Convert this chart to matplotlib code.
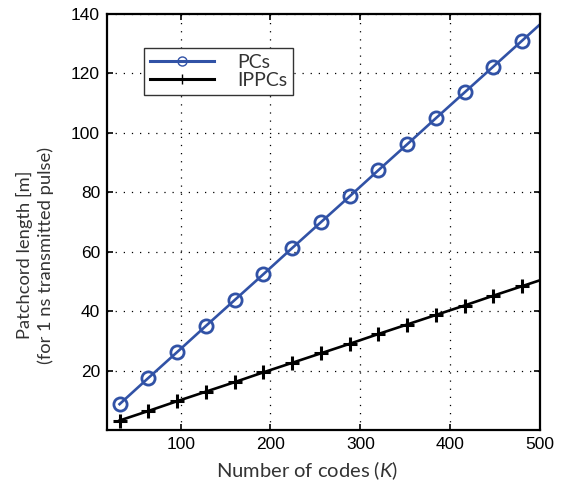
import numpy as np
import matplotlib
matplotlib.use('Agg')
from matplotlib import pyplot as plt
from matplotlib.lines import Line2D

# data
num_codes = [32, 64, 96, 128, 160, 192, 224, 256, 288, 320, 352, 384, 416, 448, 480, 500]
pcs_length = [8.7, 17.5, 26.2, 35.0, 43.7, 52.4, 61.2, 69.9, 78.6, 87.4, 96.1,
              104.9, 113.6, 122.3, 131.0, 136.5]
ippcs_length = [3.2, 6.4, 9.7, 12.9, 16.1, 19.4, 22.6, 25.8, 29.0, 32.3, 35.5,
                38.7, 41.9, 45.2, 48.4, 50.4]
x_ticks = [100, 200, 300, 400, 500]
y_ticks = [20, 40, 60, 80, 100, 120, 140]

BLUE = '#3152a6'
LABEL_FONT = 'Lato'
TICK_FONT = 'Liberation Sans'

# italic K in the same family as the label
plt.rcParams['mathtext.fontset'] = 'custom'
plt.rcParams['mathtext.it'] = 'Lato:italic'
plt.rcParams['mathtext.rm'] = 'Lato'

fig = plt.figure(figsize=(5.77, 4.87), dpi=100)
ax = fig.add_axes([0.1854, 0.117, 0.7505, 0.8543])

# markers only on the 32-step points, line runs on to the right edge
n_mark = len(num_codes) - 1
ax.plot(num_codes, pcs_length, '-', color=BLUE, lw=1.9,
        marker='o', ms=9.5, mfc='none', mec=BLUE, mew=2.0,
        markevery=list(range(n_mark)))
ax.plot(num_codes, ippcs_length, '-', color='black', lw=1.9,
        marker='+', ms=10, mew=2.2,
        markevery=list(range(n_mark)))

ax.set_xlim(18, 500)
ax.set_ylim(0, 140)
ax.set_xticks(x_ticks)
ax.set_yticks(y_ticks)
ax.grid(True, color='black', linestyle=(0, (1, 5.5)), linewidth=0.9)
ax.tick_params(direction='in', length=4, width=1.2, top=True, right=True,
               labelsize=12.5, pad=5)
for lab in ax.get_xticklabels() + ax.get_yticklabels():
    lab.set_fontfamily(TICK_FONT)
for sp in ax.spines.values():
    sp.set_linewidth(1.6)

ax.set_xlabel('Number of codes ($K$)', fontsize=14.5,
              family=LABEL_FONT, color='#333333')
ax.xaxis.set_label_coords(0.462, -0.0986)
ax.xaxis.label.set_va('center')
ax.set_ylabel('Patchcord length [m]\n(for 1 ns transmitted pulse)',
              fontsize=13.2, family=LABEL_FONT, color='#333333',
              linespacing=1.3)
ax.yaxis.set_label_coords(-0.166, 0.42)
ax.yaxis.label.set_va('center')

# legend with thin markers like the reference
h1 = Line2D([], [], color=BLUE, lw=2.2, marker='o', ms=6.5, mfc='none', mew=1.0)
h2 = Line2D([], [], color='black', lw=2.2, marker='+', ms=7, mew=1.0)
leg = ax.legend([h1, h2], ['PCs', 'IPPCs'], loc='upper left',
                bbox_to_anchor=(144 / 577, 1 - 48 / 487),
                bbox_transform=fig.transFigure, frameon=True, fancybox=False,
                edgecolor='#333333', framealpha=1, handlelength=3.3,
                handletextpad=1.2, borderpad=0.3, labelspacing=0.05,
                borderaxespad=0, prop={'family': LABEL_FONT, 'size': 14})
leg.get_frame().set_linewidth(1.0)
for t in leg.get_texts():
    t.set_color('#333333')

fig.savefig('out.png', dpi=100)
